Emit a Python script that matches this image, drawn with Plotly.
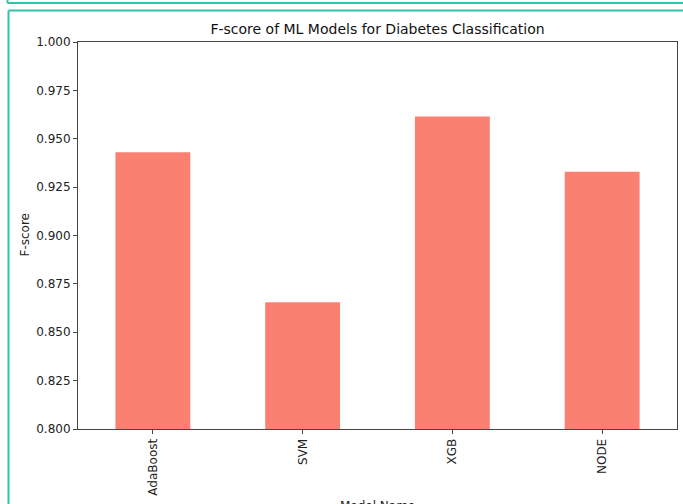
import plotly.graph_objects as go

models = ["AdaBoost", "SVM", "XGB", "NODE"]
fscores = [0.943, 0.8655, 0.9615, 0.933]
y_ticks = [0.800, 0.825, 0.850, 0.875, 0.900, 0.925, 0.950, 0.975, 1.000]
y_tick_labels = [f"{v:.3f}" for v in y_ticks]

W, H = 683, 504
L, R, T, B = 78, 6, 42, 75
pw, ph = W - L - R, H - T - B

def px(x):
    return (x - L) / pw

def py(y):
    return (H - B - y) / ph

fig = go.Figure(go.Bar(
    x=list(range(len(models))), y=fscores, width=0.5,
    marker=dict(color="#FA8072", line=dict(width=0)),
))

font = dict(family="DejaVu Sans", size=12, color="#222")
axis_common = dict(showline=True, linecolor="#444", linewidth=1, mirror=True,
                   showgrid=False, zeroline=False, ticks="outside", ticklen=4,
                   tickcolor="#444", tickfont=font)

fig.update_layout(
    width=W, height=H,
    margin=dict(l=L, r=R, t=T, b=B, autoexpand=False),
    paper_bgcolor="white", plot_bgcolor="white",
    font=font,
    showlegend=False,
    title=dict(text="F-score of ML Models for Diabetes Classification",
               x=(L + pw / 2) / W, xanchor="center", y=1 - 29 / H, yanchor="middle",
               font=dict(family="DejaVu Sans", size=14, color="#111")),
    xaxis=dict(range=[-0.5, 3.5], tickmode="array", tickvals=list(range(len(models))),
               ticktext=models, tickangle=-90, **axis_common),
    yaxis=dict(range=[0.8, 1.0], tickmode="array", tickvals=y_ticks,
               ticktext=y_tick_labels, **axis_common),
    annotations=[
        dict(text="Model Name", x=0.5, y=py(506), xref="paper", yref="paper",
             showarrow=False, xanchor="center", yanchor="middle",
             font=dict(family="DejaVu Sans", size=12, color="#222")),
        dict(text="F-score", x=px(24), y=0.5, xref="paper", yref="paper",
             showarrow=False, textangle=-90, xanchor="center", yanchor="middle",
             font=dict(family="DejaVu Sans", size=12, color="#222")),
    ],
    shapes=[
        dict(type="line", xref="paper", yref="paper", x0=px(7.5), x1=px(690),
             y0=py(3), y1=py(3), line=dict(color="#2EC4AA", width=2)),
        dict(type="line", xref="paper", yref="paper", x0=px(7.5), x1=px(7.5),
             y0=py(-5), y1=py(3), line=dict(color="#2EC4AA", width=2)),
        dict(type="line", xref="paper", yref="paper", x0=px(8.5), x1=px(690),
             y0=py(10.5), y1=py(10.5), line=dict(color="#2EC4AA", width=2)),
        dict(type="line", xref="paper", yref="paper", x0=px(8.5), x1=px(8.5),
             y0=py(10.5), y1=py(510), line=dict(color="#2EC4AA", width=2)),
    ],
)

fig.write_html("out.html", config={"displayModeBar": False},
               post_script="document.body.style.margin='0';document.body.style.overflow='hidden';")
